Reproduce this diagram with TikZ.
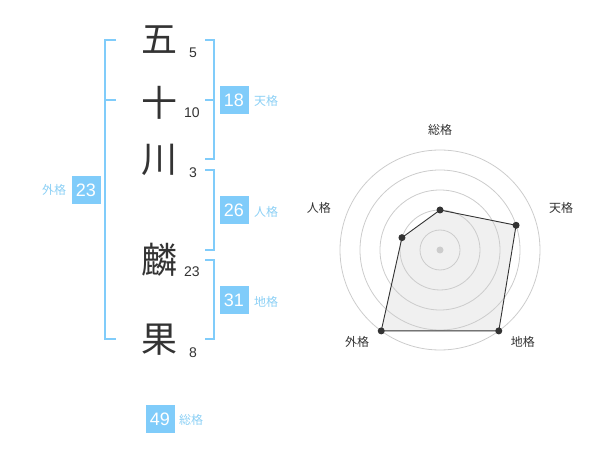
\documentclass[tikz,border=0pt]{standalone}
\usepackage{fontspec}
\setmainfont{Liberation Sans}
\newfontfamily\jpfont{Noto Sans CJK JP}
\usepackage{tikz}
\definecolor{KakuBlue}{RGB}{128,204,250}
\definecolor{KakuLabel}{RGB}{140,208,245}
\definecolor{InkGray}{RGB}{51,51,51}
\definecolor{RingGray}{RGB}{204,204,204}
\definecolor{AreaGray}{RGB}{240,240,240}
\tikzset{
  kanji/.style={font=\jpfont\fontsize{36}{36}\selectfont, text=InkGray, inner sep=0pt},
  kakusu/.style={font=\fontsize{14}{14}\selectfont, text=InkGray, inner sep=0pt},
  kakubox/.style={fill=KakuBlue, text=white, font=\fontsize{18}{18}\selectfont,
                minimum width=29pt, minimum height=28pt, inner sep=0pt},
  kakuname/.style={font=\jpfont\fontsize{12}{12}\selectfont, text=KakuLabel, inner sep=0pt},
  bracket/.style={draw=KakuBlue, line width=2pt},
  % radar chart
  ring/.style={draw=RingGray, line width=0.8pt},
  area/.style={draw=InkGray, line width=0.9pt},
  vertex/.style={circle, fill=InkGray, inner sep=0pt, minimum size=7pt},
  hub/.style={circle, fill=RingGray, inner sep=0pt, minimum size=7pt},
  chartname/.style={font=\jpfont\fontsize{12}{12}\selectfont, text=InkGray, inner sep=0pt},
}

\begin{document}
\begin{tikzpicture}[x=1pt,y=-1pt]
  \useasboundingbox (0,0) rectangle (600,470);

  % name, one character per row, stroke count beside it
  \node[kanji]  (go)   at (159,40)  {五};
  \node[kanji]  (ju)   at (159,103) {十};
  \node[kanji]  (kawa) at (159,160) {川};
  \node[kanji]  (rin)  at (159,260) {麟};
  \node[kanji]  (ka)   at (159,340) {果};
  \node[kakusu] (sgo)   at (193,53)  {5};
  \node[kakusu] (sju)   at (192,113) {10};
  \node[kakusu] (skawa) at (193,173) {3};
  \node[kakusu] (srin)  at (192,272) {23};
  \node[kakusu] (ska)   at (193,353) {8};

  % brackets
  \coordinate (gaiA) at (116,40);
  \coordinate (gaiB) at (116,100);
  \coordinate (gaiC) at (116,339);
  \draw[bracket] (gaiA) -| (105,339) -- (gaiC);
  \draw[bracket] (105,100) -- (gaiB);

  \coordinate (tenA) at (205,40);
  \coordinate (tenB) at (205,100);
  \coordinate (tenC) at (205,159);
  \draw[bracket] (tenA) -| (214,159) -- (tenC);
  \draw[bracket] (214,100) -- (tenB);

  \coordinate (jinA) at (205,170);
  \coordinate (jinB) at (205,250);
  \draw[bracket] (jinA) -| (214,250) -- (jinB);

  \coordinate (chiA) at (205,260);
  \coordinate (chiB) at (205,339);
  \draw[bracket] (chiA) -| (214,339) -- (chiB);

  % totals
  \node[kakubox]  (ten)  at (234,100) {18};
  \node[kakubox]  (jin)  at (234,210) {26};
  \node[kakubox]  (chi)  at (234,300) {31};
  \node[kakubox]  (gai)  at (86,190)  {23};
  \node[kakubox]  (sou)  at (160,419) {49};
  \node[kakuname] (lten) at (266,101) {天格};
  \node[kakuname] (ljin) at (266,212) {人格};
  \node[kakuname] (lchi) at (266,302) {地格};
  \node[kakuname] (lgai) at (54,190)  {外格};
  \node[kakuname] (lsou) at (191,420) {総格};

  % radar chart
  \begin{scope}[shift={(440,250)}, y=1pt]
    \coordinate (rsou) at (90:40);
    \coordinate (rten) at (18:80);
    \coordinate (rchi) at (-54:100);
    \coordinate (rgai) at (-126:100);
    \coordinate (rjin) at (162:40);
    \fill[AreaGray] (rsou) -- (rten) -- (rchi) -- (rgai) -- (rjin) -- cycle;
    \foreach \r in {20,40,...,100}
      \draw[ring] (0,0) circle (\r pt);
    \draw[area] (rsou) -- (rten) -- (rchi) -- (rgai) -- (rjin) -- cycle;
    \node[hub] (center) at (0,0) {};
    \foreach \p in {rsou,rten,rchi,rgai,rjin}
      \node[vertex] at (\p) {};
    \node[chartname] (csou) at (90:120)   {総格};
    \node[chartname] (cten) at (19:128)   {天格};
    \node[chartname] (cchi) at (-48:124)  {地格};
    \node[chartname] (cgai) at (-132:124) {外格};
    \node[chartname] (cjin) at (161:128)  {人格};
  \end{scope}
\end{tikzpicture}
\end{document}
